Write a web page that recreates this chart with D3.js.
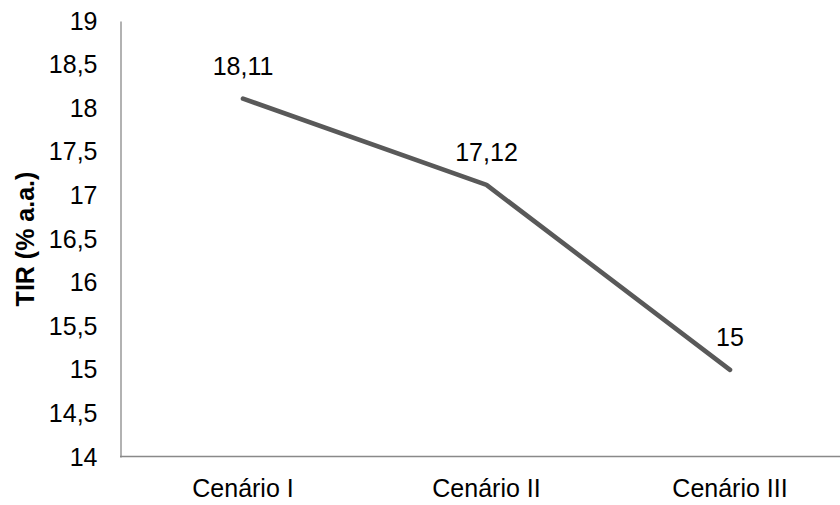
<!DOCTYPE html>
<html><head><meta charset="utf-8">
<script src="https://cdn.jsdelivr.net/npm/d3@7"></script>
<style>body{margin:0;background:#fff}text{font-family:"Liberation Sans",Arial,sans-serif}</style>
</head><body><svg id="c" width="840" height="505"></svg>
<script>
const categories = ["Cenário I", "Cenário II", "Cenário III"];
const values = [18.11, 17.12, 15];
const valueLabels = ["18,11", "17,12", "15"];
const yTicks = [14, 14.5, 15, 15.5, 16, 16.5, 17, 17.5, 18, 18.5, 19];
const yTitle = "TIR (% a.a.)";

const svg = d3.select("#c");
const x = d3.scalePoint().domain(categories).range([243, 730]);
const y = d3.scaleLinear().domain([14, 19]).range([457, 21]);
const fmt = v => String(v).replace(".", ",");
const FS = 25;

// y axis
const ya = svg.append("g").attr("transform", "translate(120.5,0)")
  .call(d3.axisLeft(y).tickValues(yTicks).tickSize(0).tickPadding(23).tickFormat(fmt));
ya.select(".domain").attr("stroke", "#898989").attr("stroke-width", 1.3);
ya.selectAll("text").attr("font-size", FS).attr("fill", "#000")
  .style("font-family", '"Liberation Sans", Arial, sans-serif');

// x axis
const xa = svg.append("g").attr("transform", "translate(0,456.5)");
xa.append("line").attr("x1", 120).attr("x2", 840).attr("stroke", "#898989").attr("stroke-width", 1.3);
xa.selectAll("text").data(categories).join("text")
  .attr("x", d => x(d)).attr("y", 40).attr("text-anchor", "middle")
  .attr("font-size", FS).attr("fill", "#000").text(d => d);

// line
const line = d3.line().x((d, i) => x(categories[i])).y(d => y(d));
svg.append("path").datum(values).attr("d", line)
  .attr("fill", "none").attr("stroke", "#595959").attr("stroke-width", 4.6)
  .attr("stroke-linecap", "round").attr("stroke-linejoin", "round");

// data labels
svg.selectAll(".lbl").data(values).join("text")
  .attr("x", (d, i) => x(categories[i])).attr("y", d => y(d) - 24)
  .attr("text-anchor", "middle").attr("font-size", FS).attr("fill", "#000")
  .text((d, i) => valueLabels[i]);

// y title
svg.append("text").attr("transform", "translate(34,239) rotate(-90)")
  .attr("text-anchor", "middle").attr("font-size", FS).attr("font-weight", "bold")
  .attr("fill", "#000").text(yTitle);
</script></body></html>
